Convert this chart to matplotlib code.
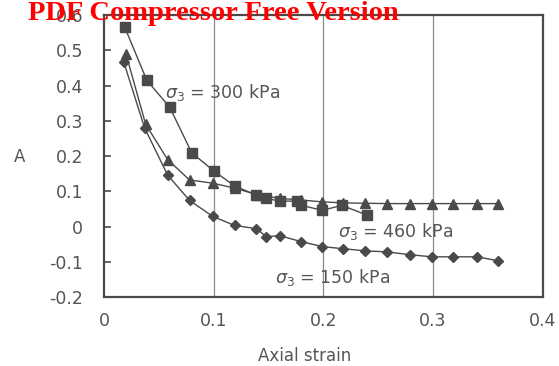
import matplotlib
matplotlib.use("Agg")
import matplotlib.pyplot as plt

# Pore-pressure parameter A versus axial strain for three confining pressures
strain_300 = [0.019, 0.039, 0.060, 0.080, 0.100, 0.119, 0.139, 0.148, 0.160, 0.176, 0.180, 0.199, 0.217, 0.240]
A_300 = [0.565, 0.415, 0.338, 0.209, 0.158, 0.115, 0.089, 0.080, 0.072, 0.072, 0.060, 0.046, 0.060, 0.032]

strain_460 = [0.020, 0.038, 0.058, 0.078, 0.099, 0.119, 0.140, 0.160, 0.180, 0.199, 0.218, 0.238, 0.258, 0.279, 0.299, 0.318, 0.340, 0.359]
A_460 = [0.490, 0.290, 0.190, 0.132, 0.123, 0.109, 0.090, 0.080, 0.075, 0.070, 0.067, 0.066, 0.065, 0.065, 0.065, 0.065, 0.065, 0.065]

strain_150 = [0.018, 0.037, 0.058, 0.078, 0.099, 0.119, 0.139, 0.148, 0.160, 0.180, 0.199, 0.218, 0.238, 0.258, 0.279, 0.299, 0.318, 0.340, 0.359]
A_150 = [0.467, 0.280, 0.146, 0.074, 0.029, 0.003, -0.006, -0.029, -0.026, -0.043, -0.057, -0.063, -0.069, -0.072, -0.080, -0.086, -0.086, -0.086, -0.097]

x_ticks = [0, 0.1, 0.2, 0.3, 0.4]
x_tick_labels = ["0", "0.1", "0.2", "0.3", "0.4"]
y_ticks = [-0.2, -0.1, 0, 0.1, 0.2, 0.3, 0.4, 0.5, 0.6]
y_tick_labels = ["-0.2", "-0.1", "0", "0.1", "0.2", "0.3", "0.4", "0.5", "0.6"]

ink = "#4a4a4a"
text_col = "#555555"

fig = plt.figure(figsize=(5.59, 3.66), dpi=100)
ax = fig.add_axes([0.186, 0.1885, 0.785, 0.7705])

for xv in [0.1, 0.2, 0.3]:
    ax.axvline(xv, color="#8a8a8a", lw=0.9, zorder=0)

ax.plot(strain_300, A_300, color=ink, lw=1.0, marker="s", ms=7.5, mfc=ink, mec=ink, zorder=3)
ax.plot(strain_460, A_460, color=ink, lw=1.0, marker="^", ms=6.5, mfc=ink, mec=ink, zorder=3)
ax.plot(strain_150, A_150, color=ink, lw=1.0, marker="D", ms=5.5, mfc=ink, mec=ink, zorder=3)

ax.set_xlim(0, 0.4)
ax.set_ylim(-0.2, 0.6)
ax.set_xticks(x_ticks)
ax.set_xticklabels(x_tick_labels)
ax.set_yticks(y_ticks)
ax.set_yticklabels(y_tick_labels)
ax.tick_params(axis="y", direction="in", length=5, width=1.2, color=ink,
               labelsize=12.5, labelcolor=text_col, pad=15)
ax.tick_params(axis="x", length=0, labelsize=12.5, labelcolor=text_col, pad=11)
for s in ax.spines.values():
    s.set_color(ink)
    s.set_linewidth(1.6)

ax.text(0.056, 0.38, r"$\sigma_3$ = 300 kPa", fontsize=12.5, color=text_col, va="center")
ax.text(0.213, -0.015, r"$\sigma_3$ = 460 kPa", fontsize=12.5, color=text_col, va="center")
ax.text(0.156, -0.145, r"$\sigma_3$ = 150 kPa", fontsize=12.5, color=text_col, va="center")

fig.text(20 / 559, 1 - 157 / 366, "A", fontsize=12, color=text_col, ha="center", va="center")
fig.text(305 / 559, 1 - 356 / 366, "Axial strain", fontsize=12, color=text_col, ha="center", va="center")

fig.text(213 / 559, 1 - 13 / 366, "PDF Compressor Free Version", fontsize=20.5, color="red",
         fontweight="bold", family="Liberation Serif", ha="center", va="center", zorder=10)

fig.savefig("out.png", dpi=100)
